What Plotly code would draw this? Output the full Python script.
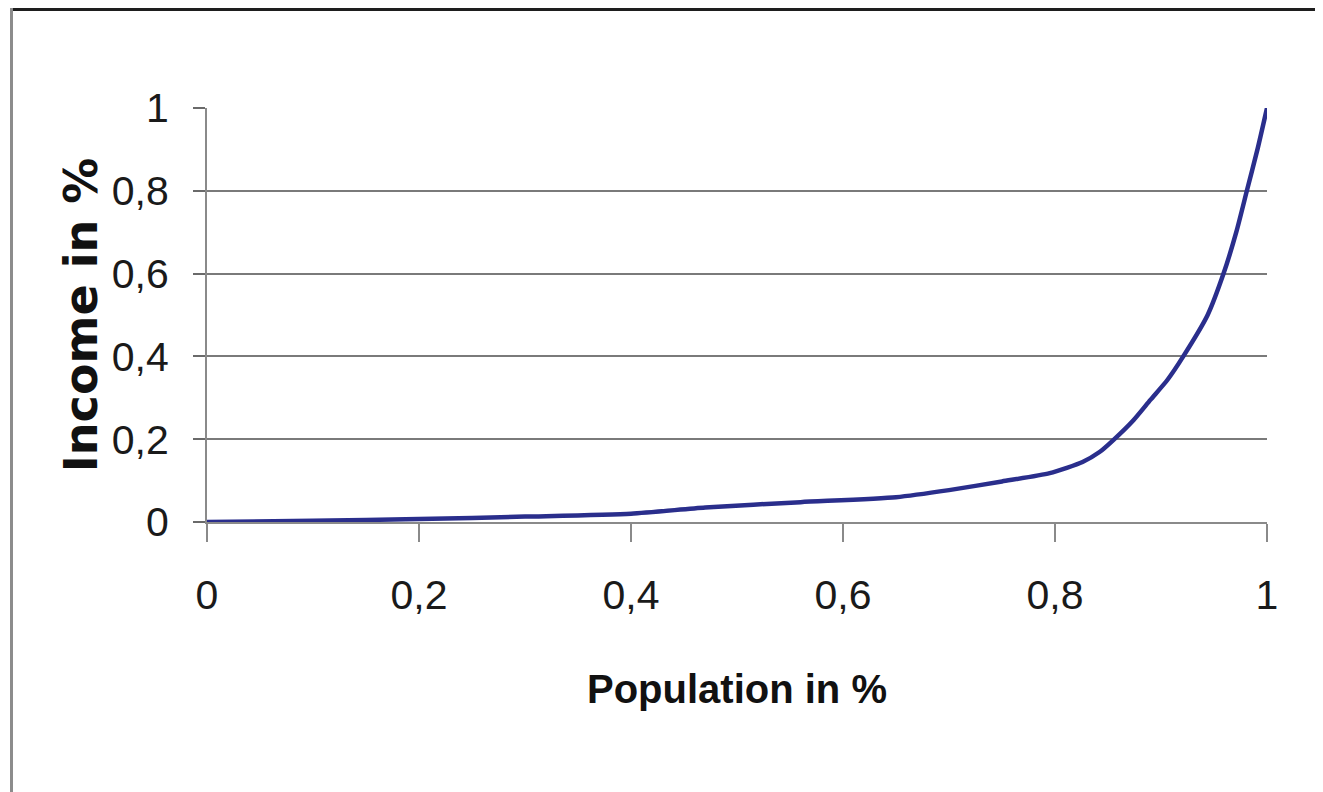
import plotly.graph_objects as go

population = [0, 0.1, 0.2, 0.3, 0.4, 0.47, 0.56, 0.65, 0.7, 0.75, 0.795, 0.826, 0.842, 0.855,
              0.874, 0.89, 0.906, 0.921, 0.944, 0.959, 0.971, 0.981, 0.991, 1.0]
income = [0, 0.003, 0.007, 0.013, 0.02, 0.035, 0.048, 0.06, 0.077, 0.098, 0.118, 0.145, 0.169, 0.198,
          0.246, 0.295, 0.343, 0.4, 0.5, 0.6, 0.7, 0.8, 0.9, 1.0]

W, H = 1323, 792
OFF = 8  # page offset of the figure
L, T = 207 - OFF, 108 - OFF
pw, ph = 1060, 414
R, B = W - L - pw, H - T - ph

def px(x):
    return (x - OFF - L) / pw

def py(y):
    return (T + ph - (y - OFF)) / ph

fig = go.Figure()
fig.add_trace(go.Scatter(x=population, y=income, mode="lines",
                         line=dict(color="#2a2e8c", width=4.5, shape="spline", smoothing=0.6),
                         showlegend=False, hoverinfo="skip"))

tickfont = dict(family="Liberation Sans Narrow, Liberation Sans, Arial", size=41, color="#1a1a1a")

fig.update_layout(
    width=W, height=H, autosize=False,
    margin=dict(l=L, r=R, t=T, b=B),
    paper_bgcolor="white", plot_bgcolor="white",
    separators=", ",
    xaxis=dict(range=[0, 1], dtick=0.2, tick0=0, showgrid=False, zeroline=False,
               showline=True, linecolor="#8a8a8a", linewidth=2,
               ticks="outside", ticklen=18, tickwidth=2, tickcolor="#8a8a8a",
               tickfont=tickfont, ticklabelstandoff=18,
               title=dict(text="<b>Population in %</b>", standoff=58,
                          font=dict(family="Liberation Sans Narrow, Liberation Sans, Arial", size=40, color="#111"))),
    yaxis=dict(range=[0, 1], dtick=0.2, tick0=0, showgrid=True, gridcolor="#7a7a7a", gridwidth=2,
               zeroline=False, showline=True, linecolor="#8a8a8a", linewidth=2,
               ticks="outside", ticklen=12, tickwidth=2, tickcolor="#6a6a6a",
               tickfont=tickfont, ticklabelstandoff=16,
               title=dict(text="<b>Income in %</b>", standoff=0,
                          font=dict(family="DejaVu Sans, Liberation Sans, Arial", size=46, color="#111"))),
    shapes=[
        dict(type="line", xref="paper", yref="paper", x0=px(10), x1=px(W + OFF), y0=py(OFF + 1), y1=py(OFF + 1),
             line=dict(color="#1e1e1e", width=4)),
        dict(type="line", xref="paper", yref="paper", x0=px(11.5), x1=px(11.5), y0=py(OFF), y1=py(H + OFF),
             line=dict(color="#8c8c8c", width=3)),
    ],
)

fig.write_html("out.html")
